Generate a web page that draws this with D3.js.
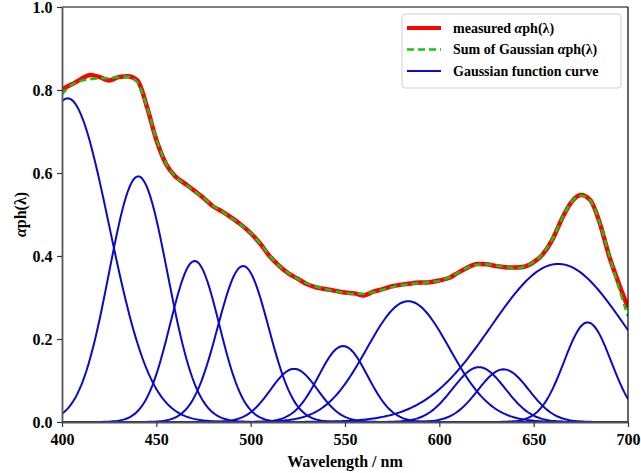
<!DOCTYPE html>
<html>
<head>
<meta charset="utf-8">
<script src="https://cdn.jsdelivr.net/npm/d3@7"></script>
<style>
  body { margin: 0; background: #fff; }
  text { font-family: "Liberation Serif", "Times New Roman", serif; font-weight: bold; }
</style>
</head>
<body>
<svg id="chart" width="641" height="473"></svg>
<script>
// wavelength grid for the measured / fitted spectra (nm)
let wavelengths = d3.range(400, 701, 5);

// measured absorption
let measured = [
  0.802, 0.813, 0.826, 0.836, 0.831, 0.823, 0.831, 0.833, 0.823, 0.760,
  0.680, 0.623, 0.592, 0.575, 0.558, 0.540, 0.520, 0.507, 0.492, 0.475,
  0.455, 0.430, 0.400, 0.377, 0.358, 0.345, 0.332, 0.324, 0.320, 0.316,
  0.312, 0.310, 0.305, 0.314, 0.320, 0.327, 0.331, 0.334, 0.336, 0.337,
  0.341, 0.347, 0.360, 0.372, 0.381, 0.380, 0.376, 0.373, 0.372, 0.374,
  0.385, 0.405, 0.440, 0.490, 0.530, 0.547, 0.535, 0.480, 0.400, 0.335,
  0.276
];

// sum of gaussians
let fitted = [
  0.790, 0.812, 0.822, 0.826, 0.828, 0.829, 0.831, 0.832, 0.818, 0.760,
  0.682, 0.624, 0.592, 0.574, 0.557, 0.540, 0.521, 0.507, 0.491, 0.474,
  0.455, 0.430, 0.401, 0.377, 0.359, 0.345, 0.334, 0.326, 0.320, 0.315,
  0.311, 0.309, 0.309, 0.313, 0.319, 0.325, 0.330, 0.333, 0.335, 0.337,
  0.340, 0.348, 0.360, 0.372, 0.379, 0.380, 0.377, 0.373, 0.371, 0.374,
  0.386, 0.407, 0.441, 0.490, 0.530, 0.546, 0.534, 0.480, 0.402, 0.325,
  0.255
];

// gaussian components: centre (nm), height, sigma (nm)
let gaussCenters = [403, 440.4, 470.3, 496, 523, 549, 583.5, 621, 634, 663, 678.6];
let gaussHeights = [0.78, 0.592, 0.388, 0.376, 0.128, 0.183, 0.291, 0.132, 0.127, 0.381, 0.24];
let gaussSigmas  = [22, 15.5, 13, 13.5, 12.5, 13, 22, 14, 13.5, 35.5, 12.5];

let xTicks = [400, 450, 500, 550, 600, 650, 700];
let yTicks = [0, 0.2, 0.4, 0.6, 0.8, 1.0];

let legendLabels = ['measured \u03B1ph(\u03BB)', 'Sum of Gaussian \u03B1ph(\u03BB)', 'Gaussian function curve'];

let margin = {top: 7, right: 13, bottom: 51, left: 62};
let width = 641 - margin.left - margin.right;
let height = 473 - margin.top - margin.bottom;

let red = '#ff0000';
let green = '#12c812';
let blue = '#0a0ac8';

let svg = d3.select('#chart');
let g = svg.append('g')
  .attr('transform', 'translate(' + margin.left + ',' + margin.top + ')');

let x = d3.scaleLinear().domain([400, 700]).range([0, width]);
let y = d3.scaleLinear().domain([0, 1.0]).range([height, 0]);

let clip = svg.append('defs').append('clipPath').attr('id', 'plotClip');
clip.append('rect').attr('width', width).attr('height', height);

let plot = g.append('g').attr('clip-path', 'url(#plotClip)');

function gaussian(i, w) {
  let d = w - gaussCenters[i];
  return gaussHeights[i] * Math.exp(-d * d / (2 * gaussSigmas[i] * gaussSigmas[i]));
}

let fine = d3.range(400, 700.5, 1);
let line = d3.line()
  .x(function(d) { return x(d[0]); })
  .y(function(d) { return y(d[1]); });

gaussCenters.forEach(function(c, i) {
  plot.append('path')
    .datum(fine.map(function(w) { return [w, gaussian(i, w)]; }))
    .attr('fill', 'none')
    .attr('stroke', blue)
    .attr('stroke-width', 2)
    .attr('d', line);
});

let smooth = d3.line()
  .x(function(d) { return x(d[0]); })
  .y(function(d) { return y(d[1]); })
  .curve(d3.curveMonotoneX);

plot.append('path')
  .datum(wavelengths.map(function(w, i) { return [w, measured[i]]; }))
  .attr('fill', 'none')
  .attr('stroke', red)
  .attr('stroke-width', 4.5)
  .attr('stroke-linejoin', 'round')
  .attr('d', smooth);

plot.append('path')
  .datum(wavelengths.map(function(w, i) { return [w, fitted[i]]; }))
  .attr('fill', 'none')
  .attr('stroke', green)
  .attr('stroke-width', 2.5)
  .attr('stroke-dasharray', '7,4')
  .attr('d', smooth);

// frame
g.append('line').attr('x1', 0).attr('x2', width).attr('y1', 0).attr('y2', 0)
  .attr('stroke', '#000').attr('stroke-width', 1.2);
g.append('line').attr('x1', width).attr('x2', width).attr('y1', 0).attr('y2', height)
  .attr('stroke', '#000').attr('stroke-width', 1.2);

let xAxis = g.append('g')
  .attr('transform', 'translate(0,' + height + ')')
  .call(d3.axisBottom(x).tickValues(xTicks).tickFormat(d3.format('d')).tickSize(5).tickSizeOuter(0));

let yAxis = g.append('g')
  .call(d3.axisLeft(y).tickValues(yTicks).tickFormat(d3.format('.1f')).tickSize(5).tickSizeOuter(0));

[xAxis, yAxis].forEach(function(a) {
  a.select('.domain').attr('stroke', '#555').attr('stroke-width', 1.8);
  a.selectAll('.tick line').attr('stroke', '#333').attr('stroke-width', 1.2);
  a.selectAll('.tick text')
    .attr('fill', '#000')
    .style('font-size', '16px')
    .style('font-family', '"Liberation Serif", serif')
    .style('font-weight', 'bold');
});
xAxis.selectAll('.tick text').attr('dy', '0.95em');
yAxis.selectAll('.tick text').attr('dx', '-0.1em');

svg.append('text')
  .attr('x', margin.left + width / 2)
  .attr('y', 467)
  .attr('text-anchor', 'middle')
  .style('font-size', '16px')
  .text('Wavelength / nm');

let yLabel = svg.append('text')
  .attr('transform', 'translate(26,' + (margin.top + height / 2) + ') rotate(-90)')
  .attr('text-anchor', 'middle')
  .style('font-size', '16px');
yLabel.append('tspan').style('font-style', 'italic').text('\u03B1');
yLabel.append('tspan').text('ph(\u03BB)');

// legend
let legend = svg.append('g').attr('transform', 'translate(402,14)');
legend.append('rect')
  .attr('width', 219)
  .attr('height', 74)
  .attr('rx', 3)
  .attr('fill', 'rgba(255,255,255,0.8)')
  .attr('stroke', '#d0d0d0')
  .attr('stroke-width', 1);

let legendStyles = [
  {color: red, width: 4, dash: null},
  {color: green, width: 2.5, dash: '7,4'},
  {color: blue, width: 2, dash: null}
];

legendLabels.forEach(function(label, i) {
  let row = legend.append('g').attr('transform', 'translate(0,' + (14 + i * 21.5) + ')');
  row.append('line')
    .attr('x1', 5).attr('x2', 39)
    .attr('stroke', legendStyles[i].color)
    .attr('stroke-width', legendStyles[i].width)
    .attr('stroke-dasharray', legendStyles[i].dash);
  let t = row.append('text')
    .attr('x', 51)
    .attr('dy', '0.35em')
    .style('font-size', '14px');
  if (i < 2) {
    let parts = label.split('\u03B1');
    t.append('tspan').text(parts[0]);
    t.append('tspan').style('font-style', 'italic').text('\u03B1');
    t.append('tspan').text(parts[1]);
  } else {
    t.text(label);
  }
});
</script>
</body>
</html>
